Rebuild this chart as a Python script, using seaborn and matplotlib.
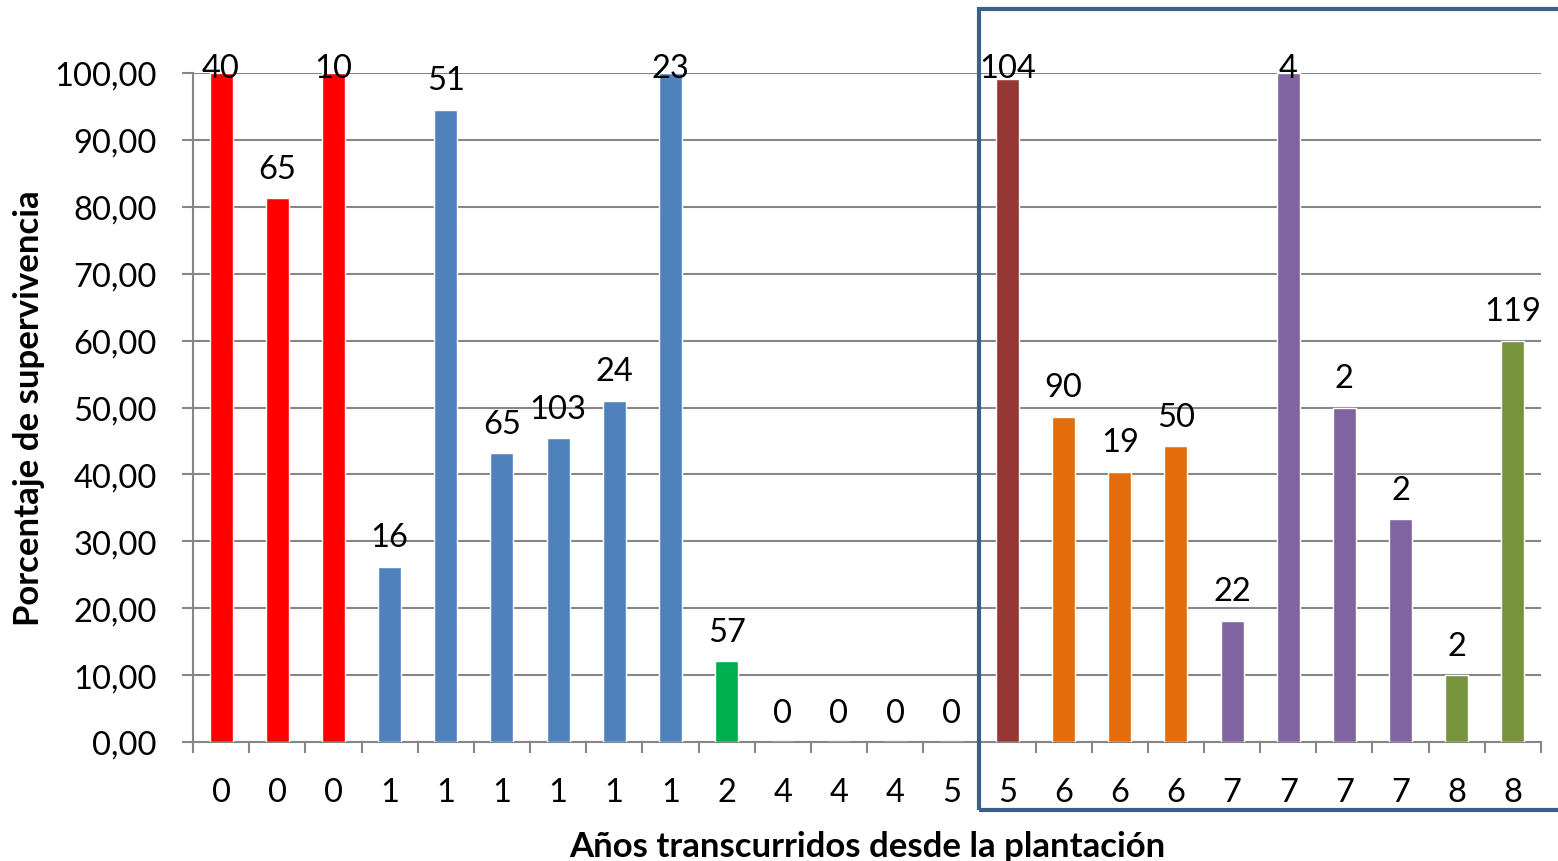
import matplotlib
matplotlib.use("Agg")
import matplotlib.pyplot as plt
import matplotlib.transforms as mtransforms
from matplotlib.patches import Rectangle
import seaborn as sns

# Years elapsed since planting (category labels, one per plot)
years = ["0", "0", "0", "1", "1", "1", "1", "1", "1", "2", "4", "4", "4", "5",
         "5", "6", "6", "6", "7", "7", "7", "7", "8", "8"]
# Survival percentage per plot
survival = [100.0, 81.3, 100.0, 26.2, 94.5, 43.2, 45.4, 51.0, 100.0, 12.1,
            0.0, 0.0, 0.0, 0.0,
            99.1, 48.6, 40.4, 44.2, 18.1, 100.0, 50.0, 33.3, 10.0, 60.0]
# Number of plants per plot (shown above each bar)
counts = [40, 65, 10, 16, 51, 65, 103, 24, 23, 57, 0, 0, 0, 0,
          104, 90, 19, 50, 22, 4, 2, 2, 2, 119]
# Bar colour per plot
colors = ["#FF0000"] * 3 + ["#4F81BD"] * 6 + ["#00B050"] + ["#4F81BD"] * 4 + \
         ["#953735"] + ["#E46C0A"] * 3 + ["#8064A2"] * 4 + ["#77933C"] * 2

sns.set_theme(style="white")
plt.rcParams["font.family"] = ["Lato", "DejaVu Sans"]

FS = 23.5      # tick and value label size
FS_AX = 25     # axis title size

fig = plt.figure(figsize=(15.58, 8.62), dpi=100)
W, H = 1558, 862
ax = fig.add_axes([193 / W, (H - 743) / H, (1541 - 193) / W, (743 - 74) / H])

idx = list(range(len(survival)))
sns.barplot(x=idx, y=survival, hue=idx, palette=colors, legend=False,
            width=0.41, saturation=1, ax=ax, zorder=3)

ax.set_xlim(-0.5, len(survival) - 0.5)
ax.set_ylim(0, 100)
ax.set_yticks(range(0, 101, 10))
ax.set_yticklabels([f"{v:.2f}".replace(".", ",") for v in range(0, 101, 10)])
ax.set_xticks(idx)
ax.set_xticklabels(years)

grid_col = "#868686"
ax.yaxis.grid(True, color=grid_col, linewidth=1.5, zorder=0)
ax.xaxis.grid(False)
for s in ["top", "right"]:
    ax.spines[s].set_visible(False)
for s in ["left", "bottom"]:
    ax.spines[s].set_color(grid_col)
    ax.spines[s].set_linewidth(1.5)

# x tick marks sit between categories
ax.set_xticks([i + 0.5 for i in range(-1, len(survival))], minor=True)
ax.tick_params(axis="x", which="major", length=0, pad=25, labelsize=FS,
               labelcolor="black")
ax.tick_params(axis="x", which="minor", length=8, width=1.5, color=grid_col,
               direction="out", bottom=True)
ax.tick_params(axis="y", length=8, width=1.5, color=grid_col, direction="out",
               left=True, pad=18, labelsize=FS, labelcolor="black")

ax.set_xlabel("Años transcurridos desde la plantación", fontsize=FS_AX,
              fontweight="bold", labelpad=17, color="black")
ax.set_ylabel("Porcentaje de supervivencia", fontsize=FS_AX, fontweight="bold",
              labelpad=7, color="black")

# Plant counts above each bar, kept inside the chart area
for i, (v, c) in enumerate(zip(survival, counts)):
    ax.text(i, min(v + 4.4, 100.8), str(c), ha="center", va="center",
            fontsize=FS, color="black", zorder=5, clip_on=False)

# Highlight box around the later plots
trans = mtransforms.blended_transform_factory(ax.transData, ax.transAxes)
box = Rectangle((13.5, -0.1016), 12, 1.1973, transform=trans, fill=False,
                edgecolor="#3B5E8C", linewidth=3, clip_on=False, zorder=6)
ax.add_patch(box)

fig.savefig("out.png", dpi=100)
